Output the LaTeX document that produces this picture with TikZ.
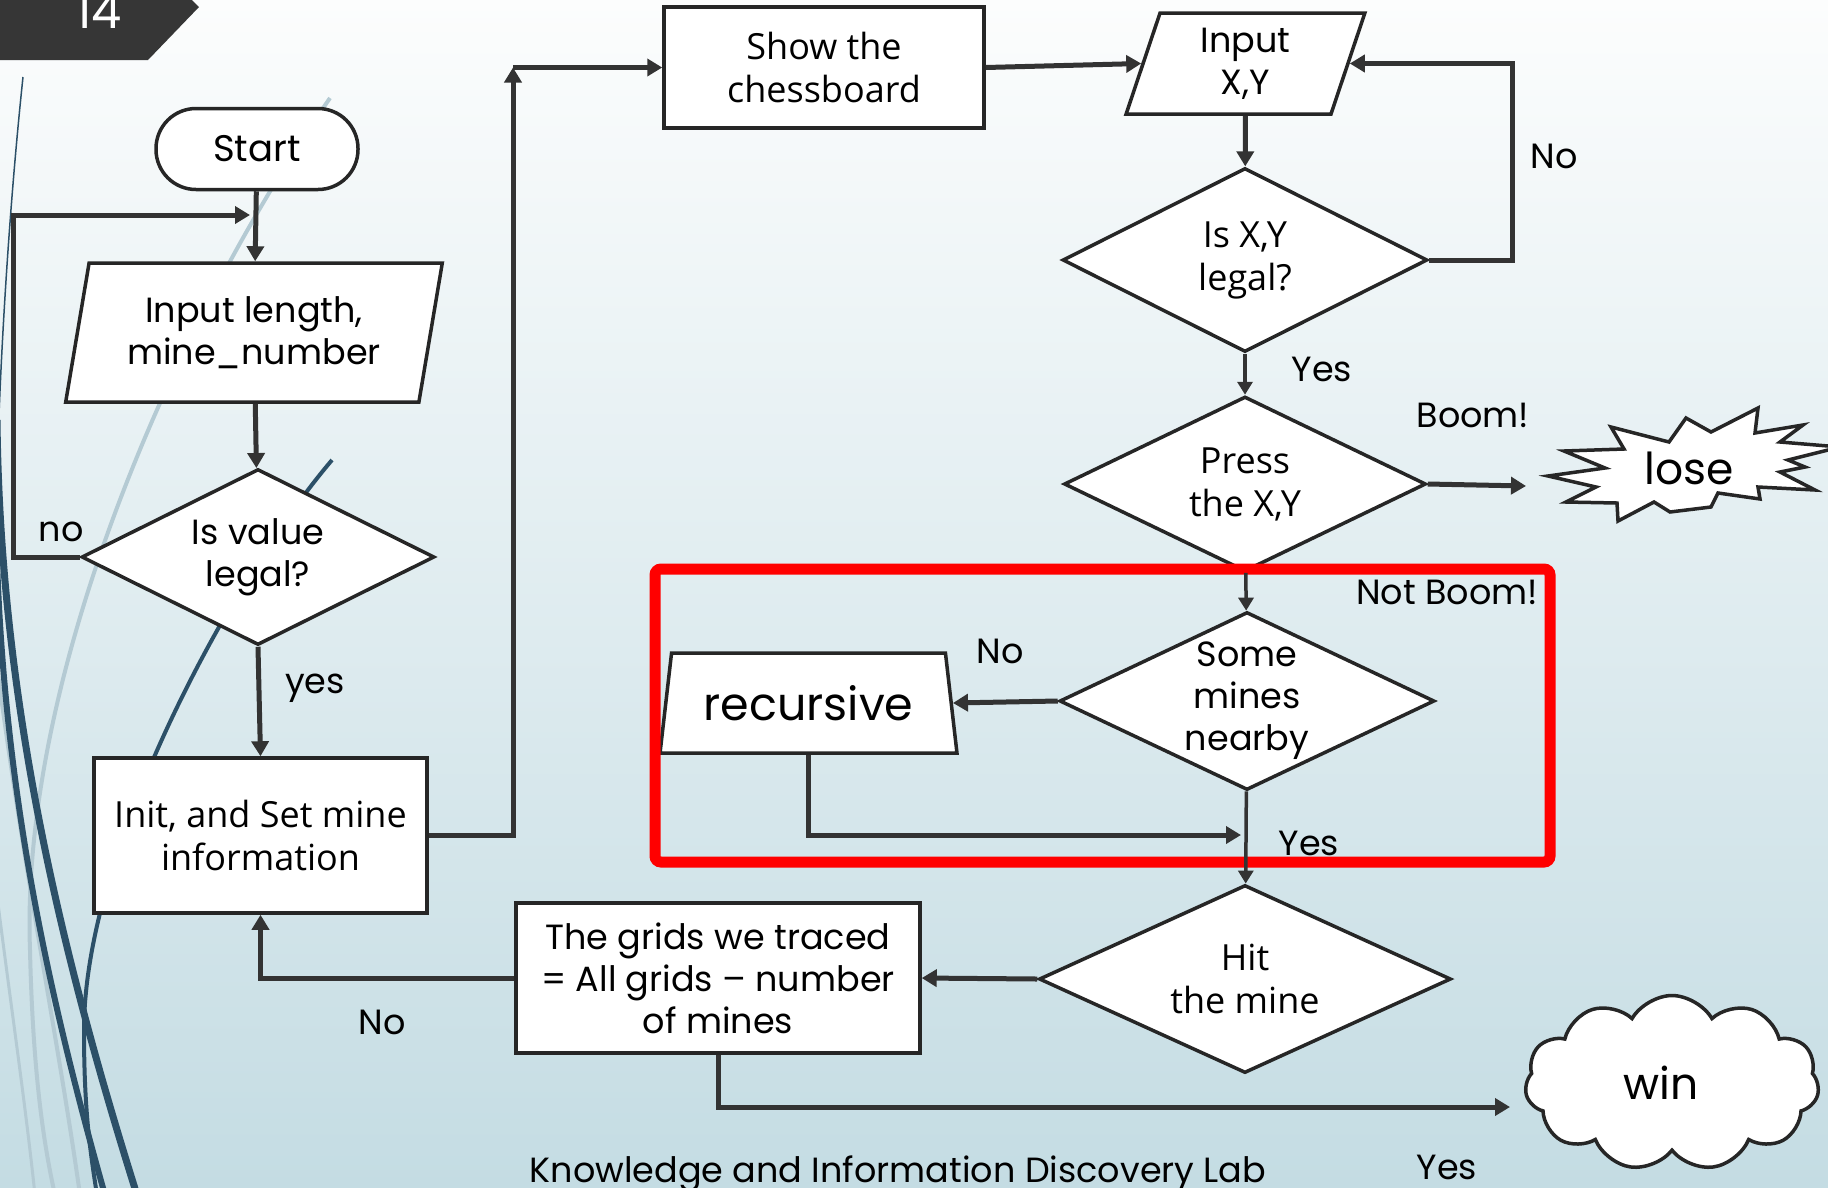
\documentclass[tikz,border=0pt]{standalone}
\usepackage{fontspec}
\setmainfont{Poppins}
\newfontfamily\segoe{Open Sans}
\usetikzlibrary{shapes.geometric,shapes.symbols,arrows.meta,positioning}

\definecolor{linegray}{HTML}{333333}
\definecolor{edgegray}{HTML}{262626}
\definecolor{swoosh}{HTML}{2C5068}
\definecolor{swooshlight}{HTML}{B4CAD3}
\definecolor{bgtop}{HTML}{FCFDFD}
\definecolor{bgbottom}{HTML}{C4DCE3}
\definecolor{tabgray}{HTML}{363636}

\newcommand{\gothic}{\fontsize{35}{42}\selectfont}
\newcommand{\humanist}{\segoe\fontsize{36}{43}\selectfont}

\tikzset{
  flow/.style={draw=linegray, line width=5pt, -{Triangle[length=15pt,width=17pt]}},
  thinflow/.style={draw=linegray, line width=3.5pt, -{Triangle[length=13pt,width=15pt]}},
  blockbase/.style={draw=edgegray, line width=3.5pt, fill=white, inner sep=0pt, align=center, font=\gothic},
  process/.style={blockbase, rectangle},
  terminal/.style={blockbase, rectangle, rounded corners=40pt, font=\fontsize{37}{44}\selectfont},
  io/.style={blockbase, trapezium, trapezium left angle=76, trapezium right angle=104, trapezium stretches=true},
  decision/.style={blockbase, diamond, aspect=2, inner sep=-20pt},
  lbl/.style={font=\gothic, inner sep=0pt}
}

\begin{document}
\begin{tikzpicture}[x=1pt,y=-1pt]
  % Fix the slide frame and paint its background
  \useasboundingbox (0,0) rectangle (1828,1187);
  \fill[top color=bgtop, bottom color=bgbottom] (0,0) rectangle (1828,1187);

  % Draw the swooshes on the left edge
  \draw[swooshlight, line width=4pt] (330,98) .. controls (170,330) and (20,680) .. (30,950) .. controls (33,1080) and (45,1150) .. (55,1195);
  \draw[swooshlight, line width=4pt] (-5,650) .. controls (20,850) and (60,1050) .. (80,1195);
  \draw[swooshlight, line width=3pt] (-5,880) .. controls (10,1000) and (25,1100) .. (35,1195);
  \draw[swoosh, line width=1.5pt] (23,77) .. controls (10,200) and (2,330) .. (-2,440);
  \draw[swoosh, line width=7pt] (-3,420) .. controls (0,700) and (60,950) .. (137,1195);
  \draw[swoosh, line width=6pt] (-3,560) .. controls (5,800) and (50,1000) .. (105,1195);
  \draw[swoosh, line width=4pt] (332,460) .. controls (230,580) and (84,850) .. (84,1030) .. controls (84,1110) and (90,1150) .. (97,1195);

  % Draw the slide number tab
  \fill[tabgray] (0,-30) -- (162,-30) -- (199,7) -- (148,60) -- (0,60) -- cycle;
  \node[text=white, font=\fontsize{48}{48}\selectfont, anchor=base, inner sep=0pt] (pagenum) at (99,28) {14};

  % Left column: read the size and set up the board
  \node[terminal, minimum width=202pt, minimum height=81pt] (start) at (257,149) {Start};
  \node[io, minimum width=377pt, minimum height=139pt] (input) at (254,332.5) {Input length,\\mine\_number};
  \node[decision, minimum width=353pt, minimum height=176pt] (legal) at (258,557) {Is value\\legal?};
  \node[process, font=\humanist, minimum width=333pt, minimum height=155pt] (init) at (260.5,835.5) {Init, and Set mine\\information};

  % Top row and right column: one move
  \node[process, font=\humanist, minimum width=320pt, minimum height=121pt] (show) at (824,67.5) {Show the\\chessboard};
  \node[io, minimum width=239pt, minimum height=101pt] (inxy) at (1245.5,63.5) {Input\\X,Y};
  \node[decision, font=\humanist, minimum width=365pt, minimum height=184pt] (isxy) at (1245,260) {Is X,Y\\legal?};
  \node[decision, font=\humanist, minimum width=362pt, minimum height=175pt] (press) at (1245,484) {Press\\the X,Y};
  \node[decision, minimum width=375pt, minimum height=178pt] (some) at (1247,701) {Some\\mines\\nearby};
  \node[io, trapezium left angle=76, trapezium right angle=76, font=\fontsize{46}{52}\selectfont, minimum width=297pt, minimum height=100pt] (recur) at (808.5,703) {recursive};
  \node[decision, font=\humanist, minimum width=412pt, minimum height=188pt] (hit) at (1245,979) {Hit\\the mine};
  \node[process, minimum width=404pt, minimum height=150pt] (traced) at (718,978) {The grids we traced\\= All grids – number\\of mines};

  % Draw the lose burst
  \draw[edgegray, line width=3.5pt, fill=white] (1548,476) -- (1605,468) -- (1564,451) -- (1624,449) -- (1611,427) -- (1669,442) -- (1686,418) -- (1711,432) -- (1758,408) -- (1755,433) -- (1803,425) -- (1780,442) -- (1840,447) -- (1788,460) -- (1805,467) -- (1780,472) -- (1815,490) -- (1758,487) -- (1760,499) -- (1718,493) -- (1711,507) -- (1670,512) -- (1654,502) -- (1618,521) -- (1617,503) -- (1566,502) -- (1596,487) -- cycle;
  \node[font=\fontsize{44}{44}\selectfont, inner sep=0pt] (lose) at (1689,468) {lose};
  \coordinate (losein) at (1526,486);

  % Draw the win cloud
  \node[cloud, cloud puffs=11, cloud puff arc=120, aspect=1.7, draw=edgegray, fill=white, line width=3.5pt, inner sep=0pt, minimum width=294pt, minimum height=175pt, font=\fontsize{44}{44}\selectfont] (win) at (1672,1083) {win\kern22pt};
  \coordinate (winin) at (1510,1107);

  % Mark the recursive part in red
  \draw[red, line width=11pt, rounded corners=6pt] (655,569) rectangle (1550,862);

  % Connectors of the left column
  \coordinate (loop) at (250,215);
  \draw[flow] (start) -- (input);
  \draw[flow] (input) -- (legal);
  \draw[flow] (legal.west) -| (13,215) -- (loop);
  \node[lbl] (lblno) at (61,532) {no};
  \draw[flow] (legal.south) -- (init.north);
  \node[lbl] (lblyes) at (315,688) {yes};

  % Up to the board, then the move loop
  \coordinate (corner) at (513,67.5);
  \draw[flow] (init.east) -| (corner);
  \draw[flow] (corner) -- (show.west);
  \draw[flow] (show.east) -- (inxy.west);
  \draw[flow] (inxy) -- (isxy);
  \draw[flow] (isxy.east) -- ++(83,0) |- (inxy.east);
  \node[lbl] (lblnoxy) at (1554,156) {No};
  \draw[thinflow] (isxy) -- (press);
  \node[lbl] (lblyesxy) at (1322,369) {Yes};
  \draw[flow] (press.east) -- (losein);
  \node[lbl] (lblboom) at (1473,415) {Boom!};
  \draw[thinflow] (press) -- (some);
  \node[lbl] (lblnotboom) at (1447,592) {Not Boom!};

  % Inside the red frame
  \coordinate (merge) at (1241,835);
  \draw[flow] (some.west) -- (recur.east);
  \node[lbl] (lblnosome) at (1000,651) {No};
  \draw[flow] (recur.south) |- (merge);
  \draw[thinflow] (some) -- (hit);
  \node[lbl] (lblyessome) at (1309,843) {Yes};

  % Bottom row: count the grids
  \draw[flow] (hit.west) -- (traced.east);
  \draw[flow] (traced.west) -| (init.south);
  \node[lbl] (lblnotraced) at (382,1022) {No};
  \draw[flow] (traced.south) |- (winin);
  \node[lbl] (lblyestraced) at (1447,1167) {Yes};

  % Footer of the slide
  \node[lbl, anchor=base] (footer) at (898,1182) {Knowledge and Information Discovery Lab};
\end{tikzpicture}
\end{document}
